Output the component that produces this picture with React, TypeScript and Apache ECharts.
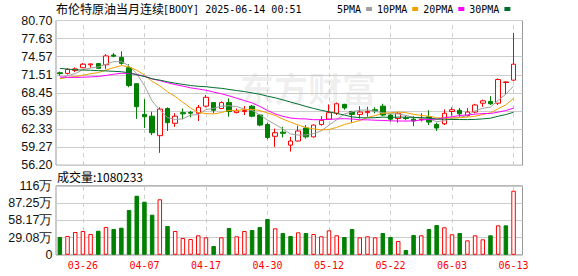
import React, { useEffect, useRef } from 'react';
import * as echarts from 'echarts';

const dates = ['03-21','03-24','03-25','03-26','03-27','03-28','03-31','04-01','04-02','04-03',
  '04-04','04-07','04-08','04-09','04-10','04-11','04-14','04-15','04-16','04-17',
  '04-21','04-22','04-23','04-24','04-25','04-28','04-29','04-30','05-01','05-02',
  '05-05','05-06','05-07','05-08','05-09','05-12','05-13','05-14','05-15','05-16',
  '05-19','05-20','05-21','05-22','05-23','05-26','05-27','05-28','05-29','05-30',
  '06-02','06-03','06-04','06-05','06-06','06-09','06-10','06-11','06-12','06-13'];

const opens = [71.85,71.75,72.25,72.7,73.2,73.4,73.2,74.85,74.45,72.7,
  70.0,64.8,64.5,61.2,65.8,63.3,65.1,65.15,65.0,66.2,
  66.8,65.8,66.8,65.1,65.3,66.2,64.7,63.1,61.1,61.8,
  59.6,60.3,62.5,61.0,63.1,64.0,65.0,66.5,65.3,64.8,
  65.1,65.6,66.2,64.7,64.1,64.2,64.0,63.9,64.4,63.1,
  63.2,65.3,65.5,64.6,65.2,66.7,67.0,66.7,70.2,70.6];
const closes = [71.7,72.43,72.5,73.3,73.35,72.6,74.7,74.65,73.45,69.7,
  66.1,64.4,61.7,65.7,63.4,64.5,64.9,65.0,66.0,67.7,
  65.5,66.8,65.3,65.4,65.45,64.5,63.0,60.9,61.7,61.6,
  60.3,62.0,61.0,63.0,63.8,65.1,66.6,65.9,64.8,65.2,
  65.3,65.4,64.7,64.0,65.0,64.1,63.7,64.0,63.5,62.5,
  65.0,65.6,64.9,65.2,66.4,67.1,66.6,70.7,70.3,73.3];
const lows = [71.35,71.55,71.95,72.65,72.7,72.5,72.5,74.5,73.2,69.4,
  64.05,62.5,61.3,58.3,62.0,62.7,64.0,64.3,63.7,66.0,
  65.0,65.7,64.4,65.0,64.7,64.3,62.8,60.6,59.3,60.9,
  58.5,60.2,60.7,60.9,62.9,64.0,64.7,65.6,63.4,64.1,
  64.4,65.0,64.5,63.6,63.4,63.8,62.8,63.6,63.0,62.0,
  63.0,64.6,64.4,64.4,65.0,66.1,66.4,66.4,68.2,70.5];
const highs = [72.05,72.6,72.75,73.5,73.35,73.5,75.0,75.2,75.5,73.3,
  70.1,67.4,65.25,66.0,66.0,65.0,65.8,65.4,66.4,68.1,
  66.85,67.0,67.5,65.8,66.2,66.4,64.8,63.4,62.4,62.7,
  61.0,62.9,63.0,63.1,64.5,66.5,66.8,66.6,65.4,66.2,
  66.1,66.0,66.6,64.9,65.2,64.6,64.5,65.0,65.5,63.4,
  65.65,66.0,65.9,65.9,66.6,67.3,67.9,70.9,70.4,78.6];

// closes before 03-21 (estimated from where the MA lines start)
const priorCloses = [75.9,76.2,74.6,74.3,74.7,75.9,77.0,75.2,75.5,75.7,
  73.5,73.0,72.6,72.0,71.5,71.0,70.6,70.2,69.8,70.0,
  70.4,70.9,71.2,70.6,70.9,70.2,70.7,69.9,72.0];

const volumes = [300000,317000,384000,401000,351000,406000,469000,435000,457000,755000,
  996000,895000,676000,936000,486000,401000,283000,266000,329000,295000,
  148000,295000,452000,312000,401000,418000,469000,604000,447000,368000,
  317000,379000,368000,351000,312000,413000,329000,300000,435000,295000,
  312000,295000,368000,300000,233000,81000,334000,329000,435000,502000,
  464000,346000,368000,244000,329000,261000,329000,497000,497000,1080233];

const labelDates = ['03-26','04-07','04-17','04-30','05-12','05-22','06-03','06-13'];
const priceTickLabels = ['56.20','59.27','62.33','65.39','68.45','71.51','74.57','77.63','80.70'];
const priceMin = 56.204;
const priceMax = 80.696;
const volTickLabels = ['0','29.08万','58.17万','87.25万','116万'];
const volMax = 1163300;

const maNames = ['5PMA','10PMA','20PMA','30PMA'];
const maDays = [5, 10, 20, 30];
const maColors = ['#a0a0a0','#f0a000','#ff00ff','#006e2e'];

const RED = '#ff0000';
const GREEN = '#008000';

function movingAverage(n: number) {
  const all = [...priorCloses, ...closes];
  return closes.map((_, i) => {
    const end = priorCloses.length + i;
    if (end - n + 1 < 0) return '-';
    let s = 0;
    for (let k = end - n + 1; k <= end; k++) s += all[k];
    return +(s / n).toFixed(3);
  });
}

export default function App() {
  const ref = useRef<HTMLDivElement>(null);
  useEffect(() => {
    const chart = echarts.init(ref.current!, null, { renderer: 'svg' });
    const ohlc = dates.map((_, i) => [opens[i], closes[i], lows[i], highs[i]]);
    const volData = volumes.map((v, i) => {
      const prev = i === 0 ? priorCloses[priorCloses.length - 1] : closes[i - 1];
      const up = closes[i] >= prev;
      return {
        value: v,
        itemStyle: { color: up ? '#fff' : GREEN, borderColor: up ? RED : GREEN, borderWidth: 1 },
      };
    });
    const markLine = {
      symbol: ['none', 'none'],
      silent: true,
      z: 1,
      label: { show: false },
      lineStyle: { color: '#cccccc', type: [4, 4], width: 1 },
      data: labelDates.map((d) => ({ xAxis: d })),
    };
    const fullW = 466.5;
    const dataW = 461.4;
    const pTop = 20.5, pH = 144.7;
    const vTop = 185.8, vH = 69;
    const option: any = {
      animation: false,
      backgroundColor: '#fff',
      legend: {
        data: maNames,
        left: 337,
        top: 4,
        align: 'right',
        icon: 'rect',
        itemWidth: 6,
        itemHeight: 4,
        itemGap: 5,
        padding: 0,
        textStyle: { fontFamily: 'DejaVu Sans Mono', fontSize: 10, color: '#000' },
      },
      graphic: [
        { type: 'text', left: 56, top: 2, style: { text: '布伦特原油当月连续', font: '12px "Noto Sans CJK SC"', fill: '#000' } },
        { type: 'text', left: 163, top: 4, style: { text: '[BOOY] 2025-06-14 00:51', font: '10px "DejaVu Sans Mono"', fill: '#000' } },
        { type: 'text', left: 57, top: 170, style: { text: '成交量:1080233', font: '12px "Noto Sans CJK SC"', fill: '#000' } },
        { type: 'text', left: 240, top: 70, z: 0, silent: true, style: { text: '东方财富', font: 'bold 34px "Noto Sans CJK SC"', fill: 'rgba(0,0,0,0.07)' } },
      ],
      grid: [
        { left: 56, top: pTop, width: fullW, height: pH, show: true, borderColor: '#999', borderWidth: 1 },
        { left: 56, top: pTop, width: dataW, height: pH },
        { left: 56, top: vTop, width: fullW, height: vH, show: true, borderColor: '#999', borderWidth: 1 },
        { left: 56, top: vTop, width: dataW, height: vH },
      ],
      xAxis: [
        { gridIndex: 0, type: 'value', min: 0, max: 1, show: false },
        { gridIndex: 1, type: 'category', data: dates, boundaryGap: true,
          axisLine: { show: false }, axisTick: { show: false }, axisLabel: { show: false }, splitLine: { show: false } },
        { gridIndex: 2, type: 'value', min: 0, max: 1, show: false },
        { gridIndex: 3, type: 'category', data: dates, boundaryGap: true,
          axisLine: { show: false }, axisTick: { show: false }, splitLine: { show: false },
          axisLabel: {
            interval: (_i: number, v: string) => labelDates.includes(v),
            color: RED, fontFamily: 'DejaVu Sans Mono', fontSize: 10, margin: 6,
          } },
      ],
      yAxis: [
        { gridIndex: 0, type: 'value', min: 0, max: priceTickLabels.length - 1, interval: 1,
          axisLine: { show: false }, axisTick: { show: false },
          axisLabel: { formatter: (v: number) => priceTickLabels[Math.round(v)], color: '#111',
            fontFamily: 'Liberation Sans', fontSize: 12.5, margin: 3.5 },
          splitLine: { lineStyle: { color: '#cccccc', width: 1 } } },
        { gridIndex: 1, type: 'value', min: priceMin, max: priceMax, show: false, splitLine: { show: false } },
        { gridIndex: 2, type: 'value', min: 0, max: volTickLabels.length - 1, interval: 1,
          axisLine: { show: false }, axisTick: { show: false },
          axisLabel: { formatter: (v: number) => volTickLabels[Math.round(v)], color: '#111',
            fontFamily: 'Liberation Sans', fontSize: 12.5, margin: 3.5 },
          splitLine: { lineStyle: { color: '#cccccc', width: 1 } } },
        { gridIndex: 3, type: 'value', min: 0, max: volMax, show: false, splitLine: { show: false } },
      ],
      series: [
        {
          type: 'candlestick', name: 'K', xAxisIndex: 1, yAxisIndex: 1, data: ohlc, barWidth: 5,
          itemStyle: { color: '#fff', color0: GREEN, borderColor: RED, borderColor0: GREEN, borderWidth: 1 },
          markLine,
        },
        ...maNames.map((n, k) => ({
          type: 'line', name: n, xAxisIndex: 1, yAxisIndex: 1, data: movingAverage(maDays[k]),
          showSymbol: false, symbol: 'none', color: maColors[k], z: 3,
          lineStyle: { color: maColors[k], width: 1 },
        })),
        {
          type: 'bar', name: 'VOL', xAxisIndex: 3, yAxisIndex: 3, data: volData, barWidth: 4.5,
          markLine,
        },
      ],
    };
    chart.setOption(option);
    return () => chart.dispose();
  }, []);
  return <div ref={ref} style={{ position: 'fixed', left: 0, top: 0, width: 578, height: 276 }} />;
}
